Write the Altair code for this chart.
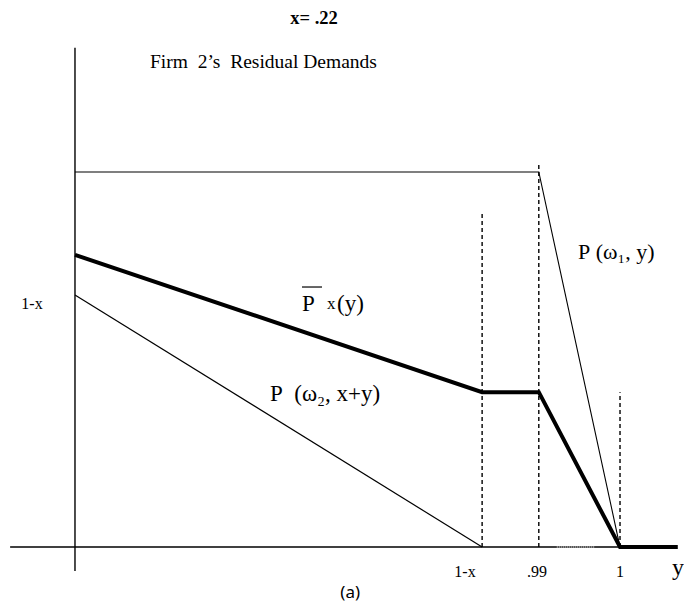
import altair as alt
import pandas as pd

# Schematic coordinates (origin = 0, demand "1" = 1 on y-axis,
# top price level = 1 on the price axis)
X_LEFT, X_1MX, X_99, X_1, X_END = -0.119, 0.747, 0.851, 1.0, 1.106
AX_BOTTOM, AX_TOP = -0.064, 1.331

top_x = [0.0, X_99, X_1]            # P(w1, y)
top_y = [1.0, 1.0, 0.0]
p2_x = [0.0, X_1MX]                 # P(w2, x+y)
p2_y = [0.672, 0.0]
pbar_x = [0.0, X_1MX, X_99, X_1, X_END]   # P-bar^x(y)
pbar_y = [0.779, 0.413, 0.413, 0.0, 0.0]

dash_x = [X_1MX, X_99, X_1]
dash_top = [0.893, 1.019, 0.413]

tick_labels = ["1-x", ".99", "1"]
tick_pos = [0.7156, 0.8477, 1.0]

W, H = 676, 595
xs = alt.Scale(domain=[-0.1229, 1.1174], nice=False, zero=False)
ys = alt.Scale(domain=[-0.1493, 1.4373], nice=False, zero=False)
SERIF = "Liberation Serif"
NB = "\u00a0"


def line(xv, yv, width, color="black", dash=None):
    df = pd.DataFrame({"x": xv, "y": yv, "o": list(range(len(xv)))})
    kw = dict(color=color, strokeWidth=width, strokeCap="butt", strokeJoin="miter")
    if dash:
        kw["strokeDash"] = dash
    return alt.Chart(df).mark_line(**kw).encode(
        x=alt.X("x:Q", scale=xs, axis=None),
        y=alt.Y("y:Q", scale=ys, axis=None),
        order="o:Q",
    )


def text(df, size, font=SERIF, weight="normal", align="center", baseline="alphabetic"):
    return alt.Chart(pd.DataFrame(df)).mark_text(
        font=font, fontSize=size, fontWeight=weight, align=align,
        baseline=baseline, color="black"
    ).encode(
        x=alt.X("x:Q", scale=xs, axis=None),
        y=alt.Y("y:Q", scale=ys, axis=None),
        text="t:N",
    )


axis_h = line([X_LEFT, X_1], [0, 0], 1.4)
axis_v = line([0, 0], [AX_BOTTOM, AX_TOP], 1.4)
gray_seg = line([0.884, 0.954], [0, 0], 1.6, color="#c8c8c8", dash=[1, 1])
top_line = line(top_x, top_y, 1.1)
p2_line = line(p2_x, p2_y, 1.2)
pbar_line = line(pbar_x, pbar_y, 4)

dash_df = pd.DataFrame({"x": dash_x, "y": [0.0] * 3, "y2": dash_top})
dashes = alt.Chart(dash_df).mark_rule(color="black", strokeWidth=1.4, strokeDash=[4, 3]).encode(
    x=alt.X("x:Q", scale=xs, axis=None),
    y=alt.Y("y:Q", scale=ys, axis=None),
    y2="y2:Q",
)

overline = line([0.4165, 0.4532], [0.6933, 0.6933], 1.2)

title = text({"x": [0.4385], "y": [1.3947], "t": ["x=" + NB + ".22"]}, 18.5, weight="bold")
firm = text({"x": [0.1376], "y": [1.2773],
             "t": ["Firm" + NB + NB + "2\u2019s" + NB + NB + "Residual" + NB + "Demands"]},
            19.5, align="left")
xticks = text({"x": tick_pos, "y": [-0.08] * 3, "t": tick_labels}, 16)
ytick = text({"x": [-0.0789], "y": [0.6347], "t": ["1-x"]}, 16)
ylab = text({"x": [1.1064], "y": [-0.056], "t": ["y"]}, 24, baseline="middle")
lab_a = text({"x": [0.505], "y": [-0.136], "t": ["(a)"]}, 17, font="Noto Sans")
p1_lab = text({"x": [0.9229], "y": [0.768], "t": ["P" + NB + "(\u03c9\u2081," + NB + "y)"]},
              22, align="left")
p2_lab = text({"x": [0.3578], "y": [0.3893],
               "t": ["P" + NB + NB + "(\u03c9\u2082," + NB + "x+y)"]}, 23, align="left")
pbar_P = text({"x": [0.4165], "y": [0.6293], "t": ["P"]}, 23, align="left")
pbar_x_ = text({"x": [0.4624], "y": [0.6347], "t": ["x"]}, 17, align="left")
pbar_y_ = text({"x": [0.4807], "y": [0.6293], "t": ["(y)"]}, 23, align="left")

chart = alt.layer(
    axis_h, axis_v, gray_seg, dashes, top_line, p2_line, pbar_line, overline,
    title, firm, xticks, ytick, ylab, lab_a, p1_lab, p2_lab, pbar_P, pbar_x_, pbar_y_,
).properties(
    width=W, height=H, padding=0, autosize=alt.AutoSizeParams(type="none"),
    background="white",
).configure_view(stroke=None)

chart.save("out.html", embed_options={"renderer": "svg", "actions": False})
